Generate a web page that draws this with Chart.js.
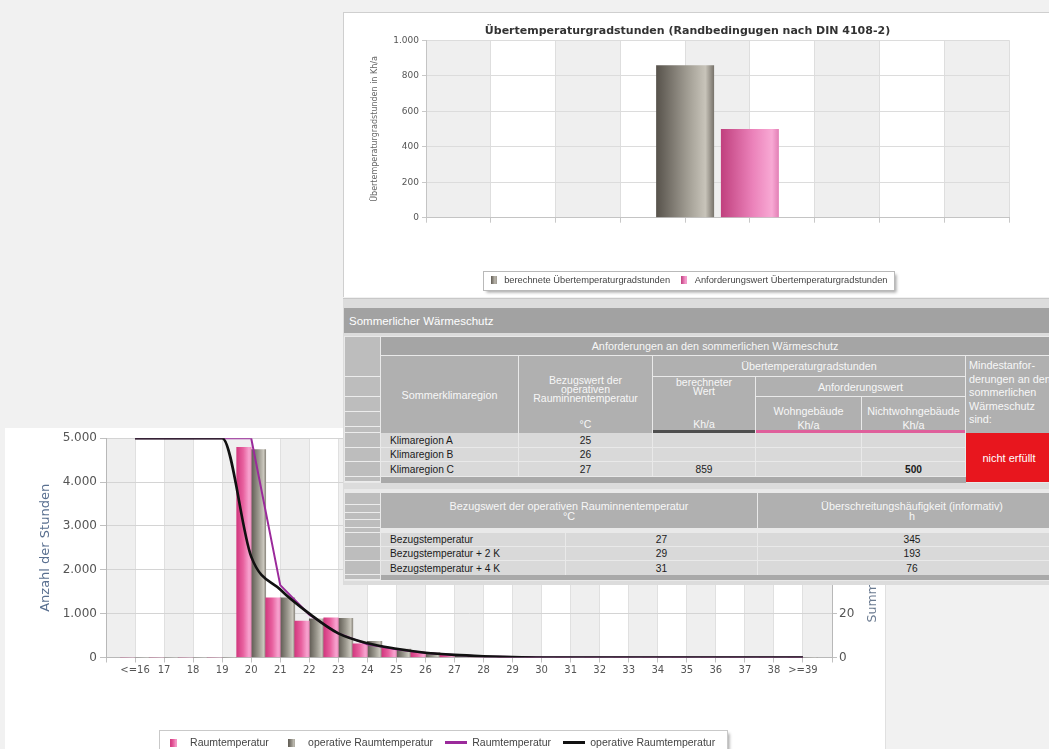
<!DOCTYPE html>
<html><head><meta charset="utf-8">
<script src="https://cdn.jsdelivr.net/npm/chart.js@4.4.1/dist/chart.umd.min.js"></script>
<style>
html,body{margin:0;padding:0;}
body{width:1049px;height:749px;overflow:hidden;position:relative;background:#f1f1f1;}
#cBottom{position:absolute;left:5px;top:428px;z-index:1;background:#fff;}
#rightPanel{position:absolute;left:885px;top:583px;width:164px;height:166px;background:#f1f1f1;border-left:1px solid #e0e0e0;z-index:2;}
#topPanel{position:absolute;left:343px;top:12px;width:706px;height:285px;background:#fff;border-left:1px solid #cfcfcf;border-top:1px solid #cfcfcf;box-sizing:border-box;z-index:2;}
#cTop{position:absolute;left:343px;top:12px;z-index:3;}
#tp{position:absolute;left:343px;top:298px;width:706px;height:287px;background:#dcdcdc;border-top:1px solid #c8c8c8;box-sizing:border-box;overflow:hidden;z-index:4;}
#tp div{position:absolute;box-sizing:border-box;white-space:nowrap;overflow:hidden;}
.h{background:#b0b0b0;color:#f7f7f7;font:10.8px "Liberation Sans",Arial,sans-serif;text-align:center;display:flex;align-items:center;justify-content:center;}
.t{color:#f7f7f7;font:10.5px "Liberation Sans",Arial,sans-serif;text-align:center;}
.b{background:#d9d9d9;color:#1b1b1b;font:10.2px "Liberation Sans",Arial,sans-serif;display:flex;align-items:center;}
.lc{background:#bdbdbd;left:2px;width:35px;border-bottom:1px solid #ececec;}
.ctr{justify-content:center;}
.lft{padding-left:9px;}
</style></head>
<body>
<canvas id="cBottom" width="880" height="345"></canvas>
<div id="rightPanel"></div>
<div id="topPanel"></div>
<canvas id="cTop" width="676" height="285"></canvas>

<div id="tp">
  <div style="left:1px;top:9px;width:705px;height:25px;background:#a2a2a2;color:#fff;font:11.5px 'Liberation Sans',Arial,sans-serif;padding-left:5px;display:flex;align-items:center;">Sommerlicher Wärmeschutz</div>

  <!-- table 1 -->
  <div style="left:1px;top:37px;width:705px;height:147px;background:#e9e9e9;"></div>
  <div class="lc" style="top:38px;height:40px;"></div>
  <div class="lc" style="top:78px;height:20px;"></div>
  <div class="lc" style="top:98px;height:15px;"></div>
  <div class="lc" style="top:113px;height:15px;"></div>
  <div class="lc" style="top:128px;height:6px;"></div>
  <div class="lc" style="top:134px;height:15px;"></div>
  <div class="lc" style="top:149px;height:14px;"></div>
  <div class="lc" style="top:163px;height:15px;"></div>
  <div class="lc" style="top:178px;height:5px;"></div>

  <div class="h" style="left:38px;top:38px;width:668px;height:18px;background:#a5a5a5;">Anforderungen an den sommerlichen Wärmeschutz</div>
  <div class="h" style="left:38px;top:57px;width:137px;height:77px;">Sommerklimaregion</div>
  <div class="h" style="left:176px;top:57px;width:133px;height:77px;"></div>
  <div class="t" style="left:176px;top:77px;width:133px;height:30px;line-height:9px;">Bezugswert der<br>operativen<br>Rauminnentemperatur</div>
  <div class="t" style="left:176px;top:119px;width:133px;height:12px;line-height:12px;">°C</div>
  <div class="h" style="left:310px;top:57px;width:312px;height:20px;">Übertemperaturgradstunden</div>
  <div class="h" style="left:310px;top:78px;width:102px;height:56px;"></div>
  <div class="t" style="left:310px;top:79px;width:102px;height:20px;line-height:9px;">berechneter<br>Wert</div>
  <div class="t" style="left:310px;top:119px;width:102px;height:12px;line-height:12px;">Kh/a</div>
  <div class="h" style="left:413px;top:78px;width:209px;height:19px;">Anforderungswert</div>
  <div class="h" style="left:413px;top:98px;width:105px;height:33px;align-items:flex-start;padding-top:7px;line-height:14px;">Wohngebäude<br>Kh/a</div>
  <div class="h" style="left:519px;top:98px;width:103px;height:33px;align-items:flex-start;padding-top:7px;line-height:14px;">Nichtwohngebäude<br>Kh/a</div>
  <div class="h" style="left:623px;top:57px;width:100px;height:77px;justify-content:flex-start;align-items:flex-start;text-align:left;padding-left:3px;padding-top:3px;line-height:13.5px;">Mindestanfor-<br>derungen an den<br>sommerlichen<br>Wärmeschutz<br>sind:</div>
  <div style="left:310px;top:131px;width:102px;height:3px;background:#4e4e4e;"></div>
  <div style="left:413px;top:131px;width:209px;height:3px;background:#df5f9b;"></div>

  <div class="b lft" style="left:38px;top:134px;width:137px;height:14px;">Klimaregion A</div>
  <div class="b ctr" style="left:176px;top:134px;width:133px;height:14px;">25</div>
  <div class="b" style="left:310px;top:134px;width:102px;height:14px;"></div>
  <div class="b" style="left:413px;top:134px;width:105px;height:14px;"></div>
  <div class="b" style="left:519px;top:134px;width:103px;height:14px;"></div>
  <div class="b lft" style="left:38px;top:149px;width:137px;height:13px;">Klimaregion B</div>
  <div class="b ctr" style="left:176px;top:149px;width:133px;height:13px;">26</div>
  <div class="b" style="left:310px;top:149px;width:102px;height:13px;"></div>
  <div class="b" style="left:413px;top:149px;width:105px;height:13px;"></div>
  <div class="b" style="left:519px;top:149px;width:103px;height:13px;"></div>
  <div class="b lft" style="left:38px;top:163px;width:137px;height:14px;">Klimaregion C</div>
  <div class="b ctr" style="left:176px;top:163px;width:133px;height:14px;">27</div>
  <div class="b ctr" style="left:310px;top:163px;width:102px;height:14px;">859</div>
  <div class="b" style="left:413px;top:163px;width:105px;height:14px;"></div>
  <div class="b ctr" style="left:519px;top:163px;width:103px;height:14px;font-weight:bold;">500</div>
  <div style="left:38px;top:178px;width:585px;height:6px;background:#a9a9a9;"></div>
  <div style="left:623px;top:134px;width:86px;height:49px;background:#e8161e;color:#fff;font:11px 'Liberation Sans',Arial,sans-serif;display:flex;align-items:center;justify-content:center;">nicht erfüllt</div>

  <!-- table 2 -->
  <div style="left:1px;top:190px;width:705px;height:92px;background:#e9e9e9;"></div>
  <div class="lc" style="top:194px;height:12px;"></div>
  <div class="lc" style="top:206px;height:8px;"></div>
  <div class="lc" style="top:214px;height:7px;"></div>
  <div class="lc" style="top:221px;height:8px;"></div>
  <div class="lc" style="top:229px;height:5px;"></div>
  <div class="lc" style="top:234px;height:14px;"></div>
  <div class="lc" style="top:248px;height:14px;"></div>
  <div class="lc" style="top:262px;height:14px;"></div>
  <div class="lc" style="top:276px;height:5px;"></div>
  <div class="h" style="left:38px;top:194px;width:376px;height:35px;line-height:10px;">Bezugswert der operativen Rauminnentemperatur<br>°C</div>
  <div class="h" style="left:415px;top:194px;width:308px;height:35px;line-height:10px;">Überschreitungshäufigkeit (informativ)<br>h</div>
  <div class="b lft" style="left:38px;top:234px;width:184px;height:13px;">Bezugstemperatur</div>
  <div class="b ctr" style="left:223px;top:234px;width:191px;height:13px;">27</div>
  <div class="b ctr" style="left:415px;top:234px;width:308px;height:13px;">345</div>
  <div class="b lft" style="left:38px;top:248px;width:184px;height:13px;">Bezugstemperatur + 2 K</div>
  <div class="b ctr" style="left:223px;top:248px;width:191px;height:13px;">29</div>
  <div class="b ctr" style="left:415px;top:248px;width:308px;height:13px;">193</div>
  <div class="b lft" style="left:38px;top:262px;width:184px;height:14px;">Bezugstemperatur + 4 K</div>
  <div class="b ctr" style="left:223px;top:262px;width:191px;height:14px;">31</div>
  <div class="b ctr" style="left:415px;top:262px;width:308px;height:14px;">76</div>
  <div style="left:38px;top:276px;width:668px;height:5px;background:#a9a9a9;"></div>
</div>

<script>
// ---------- data: bottom chart (hours per temperature class) ----------
const tempValues     = [16,17,18,19,20,21,22,23,24,25,26,27,28,29,30,31,32,33,34,35,36,37,38,39];
const tempTickLabels = ['<=16','17','18','19','20','21','22','23','24','25','26','27','28','29','30','31','32','33','34','35','36','37','38','>=39'];
const hoursRaum      = [0,0,0,0,4790,1360,830,905,310,210,130,60,15,5,0,0,0,0,0,0,0,0,0,0];
const hoursOperativ  = [0,0,0,0,4740,1360,880,895,370,190,110,50,10,0,0,0,0,0,0,0,0,0,0,0];
const sumRaum        = [100,100,100,100,100,33,19.5,11,6,3.8,2.1,1.1,0.5,0.2,0,0,0,0,0,0,0,0,0,0];
const sumOperativ    = [100,100,100,100,46,31,20,11,6.5,4,2.2,1.2,0.6,0.2,0,0,0,0,0,0,0,0,0,0];
const bottomSeriesNames = ['Raumtemperatur','operative Raumtemperatur','Raumtemperatur','operative Raumtemperatur'];
const rightAxisTitle = 'Summenhäufigkeit in %';

// ---------- data: top chart ----------
const topCategories  = ['Klimaregion C'];
const topCalculated  = [859];
const topRequirement = [500];
const topSeriesNames = ['berechnete Übertemperaturgradstunden','Anforderungswert Übertemperaturgradstunden'];

// ---------- styles ----------
const pinkStops = [[0,'#d2387f'],[0.45,'#e8619f'],[0.85,'#f7a3cf'],[1,'#ee8cbf']];
const grayStops = [[0,'#5f5b53'],[0.5,'#9a978d'],[0.85,'#c9c6bc'],[1,'#8f8b82']];
const topGrayStops = [[0,'#57524b'],[0.55,'#a29e94'],[0.85,'#c8c4ba'],[1,'#77726a']];
const topPinkStops = [[0,'#c0407e'],[0.55,'#eb82ba'],[0.88,'#f8a9d4'],[1,'#e27fb5']];

const fmtDE = v => String(Math.round(v)).replace(/\B(?=(\d{3})+(?!\d))/g, '.');

function hGrad(stops, fallback){
  return (c) => {
    const el = c.element;
    if (c.type !== 'data' || !el || !isFinite(el.x) || !el.width) return fallback;
    const g = c.chart.ctx.createLinearGradient(el.x - el.width/2, 0, el.x + el.width/2, 0);
    stops.forEach(s => g.addColorStop(s[0], s[1]));
    return g;
  };
}
function rectIcon(stops, w, h){
  const cv = document.createElement('canvas'); cv.width = w; cv.height = h;
  const x = cv.getContext('2d'); const g = x.createLinearGradient(0,0,w,0);
  stops.forEach(s => g.addColorStop(s[0], s[1])); x.fillStyle = g; x.fillRect(0,0,w,h); return cv;
}
function lineIcon(color, w, h){
  const cv = document.createElement('canvas'); cv.width = w; cv.height = h;
  const x = cv.getContext('2d'); x.fillStyle = color; x.fillRect(0,0,w,h); return cv;
}

const bandsPlugin = {
  id:'bands',
  beforeDraw(chart, args, o){
    if (!o || !o.scale) return;
    const s = chart.scales[o.scale], ca = chart.chartArea, ctx = chart.ctx;
    ctx.save(); ctx.fillStyle = o.color;
    for (let v = s.min; v < s.max; v += 2){
      const a = s.getPixelForValue(v), b = s.getPixelForValue(v+1);
      ctx.fillRect(a, ca.top, b - a, ca.bottom - ca.top);
    }
    ctx.restore();
  }
};
const legendBoxPlugin = {
  id:'legendBox',
  afterLayout(chart, args, o){
    if (o && o.shift && chart.legend){ chart.legend.left += o.shift; chart.legend.right += o.shift; }
  },
  beforeDraw(chart, args, o){
    const lg = chart.legend; if (!lg || !lg.legendHitBoxes || !lg.legendHitBoxes.length) return;
    const hb = lg.legendHitBoxes, ctx = chart.ctx;
    const l = Math.min(...hb.map(h=>h.left)), r = Math.max(...hb.map(h=>h.left+h.width));
    const t = Math.min(...hb.map(h=>h.top)), b = Math.max(...hb.map(h=>h.top+h.height));
    const x = Math.round(l - o.padL)+0.5, y = Math.round(t - o.padT)+0.5;
    const w = Math.round(r - l + o.padL + o.padR), h = Math.round(b - t + o.padT + o.padB);
    ctx.save();
    ctx.shadowColor='rgba(0,0,0,0.35)'; ctx.shadowBlur=3; ctx.shadowOffsetX=2; ctx.shadowOffsetY=2;
    ctx.fillStyle='#fff'; ctx.fillRect(x,y,w,h); ctx.restore();
    ctx.save(); ctx.strokeStyle=o.border; ctx.lineWidth=1; ctx.strokeRect(x,y,w,h); ctx.restore();
  }
};
// right-axis title written bottom-to-top (as in the original)
const rightTitlePlugin = {
  id:'rightTitle',
  afterDraw(chart, args, o){
    const s = chart.scales[o.scale]; if (!s) return;
    const ctx = chart.ctx, ca = chart.chartArea;
    ctx.save();
    ctx.font = o.size + 'px "DejaVu Sans"'; ctx.fillStyle = o.color;
    ctx.textAlign = 'center'; ctx.textBaseline = 'middle';
    ctx.translate(s.right - o.offset, (ca.top + ca.bottom) / 2);
    ctx.rotate(-Math.PI/2);
    ctx.fillText(o.text, 0, 0);
    ctx.restore();
  }
};

// ---------- bottom chart ----------
const bottomIcons = [rectIcon(pinkStops,7,8), rectIcon(grayStops,7,8), lineIcon('#9b2a9b',22,3), lineIcon('#111',22,3)];
const bottomChart = new Chart(document.getElementById('cBottom'), {
  type:'bar',
  data:{
    labels: tempValues,
    datasets:[
      {type:'bar', label:bottomSeriesNames[0], data:hoursRaum, backgroundColor:hGrad(pinkStops,'#e8619f'), borderWidth:0, categoryPercentage:1, barPercentage:1, yAxisID:'y', order:2},
      {type:'bar', label:bottomSeriesNames[1], data:hoursOperativ, backgroundColor:hGrad(grayStops,'#9a978d'), borderWidth:0, categoryPercentage:1, barPercentage:1, yAxisID:'y', order:3},
      {type:'line', label:bottomSeriesNames[2], data:sumRaum, borderColor:'#9b2a9b', borderWidth:2, tension:0, pointRadius:0, fill:false, yAxisID:'y1', order:1},
      {type:'line', label:bottomSeriesNames[3], data:sumOperativ, borderColor:'#111111', borderWidth:2.6, cubicInterpolationMode:'monotone', pointRadius:0, fill:false, yAxisID:'y1', order:0}
    ]
  },
  plugins:[bandsPlugin, legendBoxPlugin, rightTitlePlugin],
  options:{
    responsive:false, animation:false, events:[],
    layout:{padding:{left:29,right:1,top:9,bottom:15}},
    plugins:{
      tooltip:{enabled:false},
      bands:{scale:'x', color:'#efefef'},
      rightTitle:{scale:'y1', text:rightAxisTitle, size:12.5, color:'#6a7a90', offset:11},
      legendBox:{padL:4, padT:8, padR:12, padB:30, border:'#c9c9c9', shift:-20},
      legend:{position:'bottom', labels:{
        font:{family:'Liberation Sans', size:10.5}, color:'#444', usePointStyle:true, pointStyleWidth:22, padding:12,
        generateLabels: (chart) => chart.data.datasets.map((ds,i) => ({text:ds.label, pointStyle:bottomIcons[i], datasetIndex:i, hidden:false, fontColor:'#444', lineWidth:0, strokeStyle:'rgba(0,0,0,0)', fillStyle:'rgba(0,0,0,0)'}))
      }}
    },
    scales:{
      x:{type:'linear', min:15, max:40, offset:false,
        grid:{offset:false, color:'#e0e0e0', tickLength:5, tickColor:'#c0c0c0'},
        border:{color:'#b8b8b8'},
        ticks:{stepSize:1, autoSkip:false, maxRotation:0, minRotation:0, includeBounds:false, color:'#555', padding:2,
          font:{family:'DejaVu Sans', size:10},
          callback:(v) => { const i = tempValues.indexOf(v); return i >= 0 ? tempTickLabels[i] : ''; }},
        afterFit:(s) => { s.height = 68; }
      },
      y:{position:'left', min:0, max:5000,
        grid:{color:'#d4d4d4', tickLength:6, tickColor:'#c0c0c0'},
        border:{color:'#b8b8b8'},
        ticks:{stepSize:1000, color:'#555', padding:3, font:{family:'DejaVu Sans', size:12}, callback:(v)=>fmtDE(v)},
        title:{display:true, text:'Anzahl der Stunden', color:'#5a7090', font:{family:'DejaVu Sans', size:13}, padding:{top:4,bottom:4}},
        afterFit:(s) => { s.width = 72; }
      },
      y1:{position:'right', min:0, max:100,
        grid:{drawOnChartArea:false, tickLength:5, tickColor:'#c0c0c0'},
        border:{color:'#b8b8b8'},
        ticks:{stepSize:20, color:'#555', padding:2, font:{family:'DejaVu Sans', size:12}},
        afterFit:(s) => { s.width = 52; }
      }
    }
  }
});
bottomChart.update();

// ---------- top chart ----------
const topIcons = [rectIcon(topGrayStops,6,8), rectIcon(topPinkStops,6,8)];
const topChart = new Chart(document.getElementById('cTop'), {
  type:'bar',
  data:{
    labels: topCategories,
    datasets:[
      {label:topSeriesNames[0], data:topCalculated, backgroundColor:hGrad(topGrayStops,'#a29e94'), borderWidth:0, categoryPercentage:2/9, barPercentage:0.895},
      {label:topSeriesNames[1], data:topRequirement, backgroundColor:hGrad(topPinkStops,'#eb82ba'), borderWidth:0, categoryPercentage:2/9, barPercentage:0.895}
    ]
  },
  plugins:[bandsPlugin, legendBoxPlugin],
  options:{
    responsive:false, animation:false, events:[],
    layout:{padding:{left:23,right:10,top:4,bottom:2}},
    plugins:{
      tooltip:{enabled:false},
      title:{display:true, text:'Übertemperaturgradstunden (Randbedingugen nach DIN 4108-2)', color:'#333', font:{family:'DejaVu Sans', size:11, weight:'bold'}, padding:{top:9,bottom:2}},
      bands:{scale:'xg', color:'#efefef'},
      legendBox:{padL:5, padT:5, padR:6, padB:5, border:'#b9b9b9', shift:0},
      legend:{position:'bottom', labels:{
        font:{family:'Liberation Sans', size:9.3}, color:'#444', usePointStyle:true, pointStyleWidth:12, padding:8,
        generateLabels:(chart) => chart.data.datasets.map((ds,i) => ({text:ds.label, pointStyle:topIcons[i], datasetIndex:i, hidden:false, fontColor:'#444', lineWidth:0, strokeStyle:'rgba(0,0,0,0)', fillStyle:'rgba(0,0,0,0)'}))
      }}
    },
    scales:{
      x:{type:'category', display:false, offset:true, grid:{display:false}},
      xg:{type:'linear', position:'bottom', min:0, max:9, offset:false,
        ticks:{display:false, stepSize:1, includeBounds:false},
        grid:{offset:false, color:'#dedede', tickLength:5, tickColor:'#c8c8c8'},
        border:{color:'#c4c4c4'},
        afterFit:(s) => { s.height = 50; }
      },
      y:{min:0, max:1000,
        grid:{color:'#dcdcdc', tickLength:4, tickColor:'#c8c8c8'},
        border:{color:'#c4c4c4'},
        ticks:{stepSize:200, color:'#555', padding:3, font:{family:'DejaVu Sans', size:9}, callback:(v)=>fmtDE(v)},
        title:{display:true, text:'Übertemperaturgradstunden in Kh/a', color:'#666', font:{family:'DejaVu Sans', size:8}, padding:{top:4,bottom:0}},
        afterFit:(s) => { s.width = 60; }
      }
    }
  }
});
topChart.update();
</script>
</body></html>
